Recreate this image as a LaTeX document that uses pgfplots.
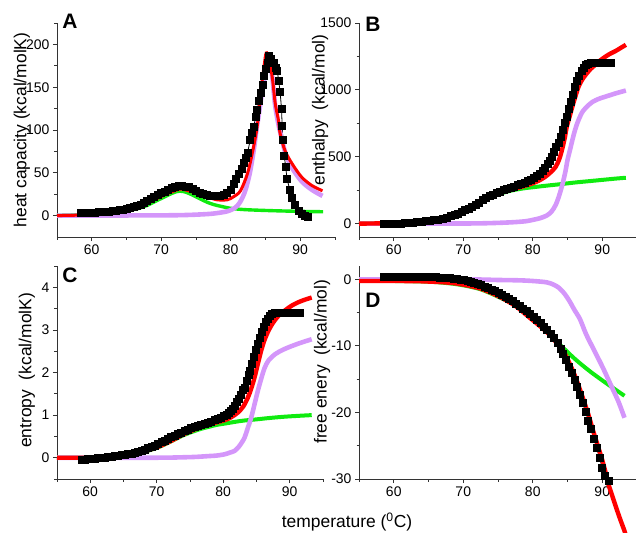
\documentclass[border=0pt]{standalone}
\usepackage{fontspec}
\setmainfont{Liberation Sans}
\usepackage{pgfplots}
\pgfplotsset{compat=1.18}

\definecolor{fitRed}{RGB}{255,0,0}
\definecolor{fitGreen}{RGB}{16,235,16}
\definecolor{fitLilac}{RGB}{212,150,250}

\pgfplotsset{
  panel/.style={
    scale only axis, anchor=south west, clip=false,
    xmin=55, xmax=95,
    axis x line*=bottom, axis y line*=left,
    axis line style={-, black!80, line width=0.8bp},
    tick style={black!80, line width=0.8bp},
    tick align=outside, major tick length=4bp, minor tick length=2.5bp,
    xtick={60,70,80,90}, minor xtick={55,65,75,85,95},
    ticklabel style={font=\fontsize{14}{14}\selectfont},
    label style={font=\fontsize{17.5}{17.5}\selectfont},
    /pgf/number format/assume math mode=true,
    /pgf/number format/1000 sep={},
    scaled ticks=false,
  },
  data/.style={black, line width=0.8bp, mark=square*, mark size=3.5bp},
  fitG/.style={fitGreen, line width=4bp, smooth},
  fitP/.style={fitLilac, line width=4.6bp, smooth},
  fitR/.style={fitRed, line width=4.4bp, smooth},
}

\begin{document}
\begin{tikzpicture}
\useasboundingbox (0,0) rectangle (636bp,-533bp);

% A: heat capacity
\begin{axis}[panel, at={(57bp,-237bp)}, width=278bp, height=214bp,
  ymin=-25, ymax=225, ytick={0,50,100,150,200}, minor ytick={25,75,125,175,225},
  ylabel={heat capacity (kcal/molK)},
  ylabel style={at={(axis description cs:-0.126,0.5)}, anchor=center}]
\addplot[data] coordinates {
 (58.5,3) (59,3) (59.5,3) (60,3.3) (60.5,3.5) (61,3.8) (61.5,4) (62,4.3)
 (62.5,4.7) (63,5.2) (63.5,5.8) (64,6.4) (64.5,7) (65,8) (65.5,9) (66,10)
 (66.5,11.5) (67,13) (67.5,15) (68,17.5) (68.5,20) (69,22) (69.5,24) (70,26)
 (70.5,28) (71,30) (71.5,32) (72,34) (72.5,35) (73,35) (73.5,34) (74,33)
 (74.5,31) (75,29) (75.5,27) (76,25.5) (76.5,24) (77,23) (77.5,22.5) (78,22.5)
 (78.5,23) (79,24) (79.5,26) (80,30) (80.4,37) (80.8,43) (81.2,49) (81.6,55)
 (81.9,61) (82.2,67) (82.4,73) (82.8,88) (83.1,97) (83.3,104) (83.6,115)
 (83.8,124) (84.1,134) (84.3,143) (84.6,153) (84.8,163) (85.1,171) (85.3,178)
 (85.5,186) (85.8,183) (86.2,178) (86.5,172) (86.7,169) (86.9,157) (87.1,145)
 (87.3,125) (87.4,105) (87.5,88) (87.7,70) (87.9,57) (88.1,43) (88.5,30)
 (88.8,21) (89.3,12) (89.8,5) (90.3,2) (90.7,0) (91.1,-1)
};
\addplot[fitG, line width=3.4bp] coordinates {
 (55,0.3) (58,1) (60,1.5) (62,2.5) (64,4) (66,7) (67,9) (68,12) (69,16) (70,20)
 (71,24) (72,27.5) (72.7,28.5) (73.5,27.5) (74.5,24) (75.5,20) (76.5,16)
 (77.5,13) (78.5,11) (80,8.5) (82,7) (85,6) (88,5.3) (91,4.8) (93.3,4.5)
};
\addplot[fitP] coordinates {
 (55,0) (70,0.3) (74,0.8) (77,2) (78.5,3.5) (79.5,5) (80.4,8) (81,12) (81.5,18)
 (82,27) (82.4,38) (82.8,52) (83.3,76) (83.7,100) (84,116) (84.4,138)
 (84.8,158) (85.1,172) (85.4,181) (85.7,177) (86,160) (86.4,128) (86.9,105)
 (87.4,88) (87.9,72) (88.8,56) (90.2,40) (91.7,30) (93.2,23)
};
\addplot[fitR, line width=3bp] coordinates {
 (55,0) (58,0.5) (60,1) (62.6,2) (65,5) (67,10) (68.4,16) (69.9,22) (71.3,27)
 (72.7,31) (73.7,29.5) (75.1,26) (76.6,22) (78,18.5) (79.5,18.5) (80.4,22)
 (81.4,29) (82.4,49) (83.1,73) (83.8,104) (84.3,143) (84.8,175) (85.1,190)
 (85.5,184) (86,160) (86.4,131) (86.85,112) (87.1,96) (87.8,76) (88.8,61)
 (90.2,45) (91.7,35) (93.2,29)
};
\end{axis}

% B: enthalpy
\begin{axis}[panel, at={(359bp,-237bp)}, width=278bp, height=214bp,
  ymin=-100, ymax=1500, ytick={0,500,1000,1500}, minor ytick={250,750,1250},
  ylabel={enthalpy\ \ (kcal/mol)},
  ylabel style={at={(axis description cs:-0.14,0.593)}, anchor=center}]
\addplot[data] coordinates {
 (58.6,-5) (59.2,-4) (59.8,-3) (60.4,-2) (61,0) (61.6,2) (62.2,4) (62.8,7)
 (63.4,10) (64,13) (64.6,17) (65.2,21) (65.8,26) (66.4,31) (67,38) (67.6,46)
 (68.2,55) (68.8,66) (69.3,76) (69.8,88) (70.3,100) (70.8,113) (71.3,127)
 (71.8,142) (72.3,158) (72.8,174) (73.3,190) (73.8,204) (74.3,217) (74.8,229)
 (75.3,240) (75.8,250) (76.3,259) (76.8,268) (77.3,277) (77.8,286) (78.3,295)
 (78.8,305) (79.3,316) (79.8,330) (80.2,343) (80.6,358) (81,375) (81.4,395)
 (81.8,418) (82.2,445) (82.5,470) (82.8,500) (83.1,535) (83.4,570) (83.7,605)
 (84,650) (84.3,700) (84.6,750) (84.9,800) (85.2,855) (85.5,910) (85.8,965)
 (86.1,1020) (86.4,1065) (86.7,1105) (87,1140) (87.3,1165) (87.6,1185)
 (87.9,1197) (88.3,1203) (88.8,1205) (89.3,1205) (89.8,1204) (90.3,1203)
 (90.8,1201) (91.2,1200)
};
\addplot[fitG] coordinates {
 (55,0) (59,3) (63,11) (66,28) (68,52) (70,90) (71,115) (72,148) (73,175)
 (74,198) (75,218) (76,235) (77,248) (78,258) (79,266) (80,272) (82,284)
 (84,295) (86,307) (88,317) (90,327) (92,337) (93.4,343)
};
\addplot[fitP] coordinates {
 (55,0) (70,1) (74,4) (77,10) (79,18) (80,28) (81,40) (82,60) (82.7,90)
 (83.3,140) (83.8,210) (84.3,300) (84.7,390) (85,475) (85.4,560) (85.7,625)
 (86,685) (86.4,750) (86.8,800) (87.2,840) (87.9,880) (88.6,910) (89.5,933)
 (90.5,950) (92,975) (93.4,995)
};
\addplot[fitR] coordinates {
 (55,0) (59,3) (63,12) (66,30) (67.9,50) (69,72) (70.2,100) (71.4,138)
 (72.6,175) (73.8,203) (75,225) (76.2,245) (77.5,262) (78.7,280) (79.9,300)
 (80.9,322) (81.8,350) (82.6,385) (83.3,425) (83.8,480) (84.2,550) (84.6,640)
 (84.9,725) (85.3,800) (85.7,875) (86.1,945) (86.6,1025) (87.1,1075)
 (87.6,1112) (88.3,1155) (89,1187) (89.7,1220) (90.5,1250) (91.2,1272)
 (91.9,1290) (92.7,1315) (93.4,1337)
};
\end{axis}

% C: entropy
\begin{axis}[panel, at={(57bp,-479bp)}, width=266bp, height=213bp,
  ymin=-0.5, ymax=4.5, ytick={0,1,2,3,4}, minor ytick={-0.5,0.5,1.5,2.5,3.5,4.5},
  ylabel={entropy\ \ (kcal/molK)},
  ylabel style={at={(axis description cs:-0.113,0.51)}, anchor=center}]
\addplot[data] coordinates {
 (58.7,-0.04) (59.2,-0.04) (59.7,-0.035) (60.2,-0.03) (60.7,-0.02) (61.2,-0.01)
 (61.7,0) (62.2,0.005) (62.7,0.015) (63.2,0.025) (63.7,0.035) (64.2,0.045)
 (64.7,0.055) (65.2,0.065) (65.7,0.08) (66.2,0.095) (66.7,0.11) (67.2,0.135)
 (67.7,0.16) (68.2,0.19) (68.7,0.22) (69.2,0.25) (69.7,0.285) (70.2,0.32)
 (70.7,0.36) (71.2,0.4) (71.7,0.44) (72.2,0.48) (72.7,0.51) (73.2,0.55)
 (73.7,0.59) (74.2,0.63) (74.7,0.66) (75.2,0.7) (75.7,0.73) (76.2,0.75)
 (76.7,0.78) (77.2,0.8) (77.7,0.82) (78.2,0.85) (78.7,0.88) (79.2,0.91)
 (79.7,0.94) (80.1,0.97) (80.5,1.01) (80.9,1.06) (81.2,1.1) (81.5,1.15)
 (81.8,1.22) (82.1,1.3) (82.4,1.39) (82.7,1.48) (83,1.58) (83.2,1.65)
 (83.5,1.8) (83.8,1.95) (84,2.04) (84.3,2.2) (84.6,2.37) (84.9,2.53)
 (85.2,2.68) (85.5,2.82) (85.8,2.96) (86.1,3.08) (86.4,3.18) (86.7,3.26)
 (87,3.32) (87.3,3.37) (87.7,3.39) (88.1,3.4) (88.6,3.41) (89.1,3.41)
 (89.6,3.4) (90.1,3.4) (90.6,3.39) (91.1,3.39) (91.6,3.39)
};
\addplot[fitG] coordinates {
 (55,0) (60,0) (62,0.01) (64,0.02) (66,0.06) (67.6,0.11) (69,0.18) (70,0.23)
 (71.3,0.32) (72.6,0.42) (73.9,0.52) (75.2,0.6) (76.5,0.67) (77.7,0.72)
 (79,0.77) (80.2,0.8) (81.7,0.84) (83,0.87) (85,0.9) (86.8,0.93) (89,0.96)
 (91,0.98) (93.3,1.0)
};
\addplot[fitP] coordinates {
 (55,0) (70,0) (74,0.01) (76,0.02) (78,0.04) (79,0.05) (80.2,0.08) (81,0.12)
 (81.7,0.16) (82.3,0.25) (82.8,0.36) (83.2,0.47) (83.7,0.7) (84.2,0.94)
 (84.7,1.25) (85.2,1.57) (85.7,1.85) (86.2,2.1) (86.8,2.28) (87.8,2.43)
 (88.8,2.52) (89.8,2.59) (91.5,2.69) (93.3,2.78)
};
\addplot[fitR] coordinates {
 (55,0) (60,0) (62,0.01) (64,0.02) (66,0.06) (67.6,0.12) (69,0.19) (70,0.24)
 (71.3,0.33) (72.6,0.43) (73.9,0.54) (75.2,0.63) (76.5,0.71) (77.7,0.77)
 (79,0.83) (80.2,0.88) (81.2,0.95) (82.2,1.06) (83,1.2) (83.7,1.41)
 (84.2,1.62) (84.7,1.88) (85.2,2.2) (85.7,2.51) (86.2,2.76) (86.8,2.98)
 (87.5,3.17) (88.3,3.33) (89.3,3.46) (90.3,3.57) (91.3,3.65) (92.3,3.71)
 (93.3,3.76)
};
\end{axis}

% D: free energy
\begin{axis}[panel, at={(359bp,-479bp)}, width=278bp, height=213bp,
  ymin=-30, ymax=2, ytick={-30,-20,-10,0}, minor ytick={-25,-15,-5},
  ylabel={free enery\ \ (kcal/mol)},
  ylabel style={at={(axis description cs:-0.133,0.55)}, anchor=center}]
\addplot[data] coordinates {
 (58.6,0.4) (59.1,0.4) (59.6,0.4) (60.1,0.4) (60.6,0.4) (61.1,0.4) (61.6,0.4)
 (62.1,0.4) (62.6,0.4) (63.1,0.4) (63.6,0.4) (64.1,0.38) (64.6,0.36)
 (65.1,0.34) (65.6,0.32) (66.1,0.3) (66.6,0.27) (67.1,0.24) (67.6,0.2)
 (68.1,0.15) (68.6,0.1) (69.1,0.03) (69.6,-0.05) (70.1,-0.15) (70.6,-0.27)
 (71.1,-0.4) (71.6,-0.55) (72.1,-0.72) (72.6,-0.9) (73.1,-1.1) (73.6,-1.32)
 (74.1,-1.55) (74.6,-1.8) (75.1,-2.07) (75.6,-2.35) (76.1,-2.65) (76.6,-2.97)
 (77.1,-3.3) (77.6,-3.65) (78.1,-4.02) (78.6,-4.4) (79.1,-4.8) (79.6,-5.2)
 (80.1,-5.65) (80.6,-6.1) (81.1,-6.6) (81.6,-7.1) (82.1,-7.6) (82.6,-8.2)
 (83.1,-8.8) (83.6,-9.6) (84,-10.4) (84.4,-11.2) (84.8,-12.1) (85.2,-13.1)
 (85.6,-14.1) (86,-15.1) (86.4,-16.2) (86.8,-17.4) (87.2,-18.6) (87.6,-19.9)
 (88,-21.2) (88.4,-22.5) (88.8,-23.9) (89.2,-25.3) (89.6,-26.8) (90,-28.3)
 (90.4,-29.6) (90.9,-30.3)
};
\addplot[fitG] coordinates {
 (55,-0.25) (60,-0.25) (65,-0.35) (68,-0.6) (70,-0.9) (72.5,-1.5) (75,-2.6)
 (77.5,-3.9) (79.6,-5.3) (81.8,-7.6) (83.9,-9.8) (86,-11.9) (88.2,-13.8)
 (90.7,-15.7) (93.2,-17.5)
};
\addplot[fitP] coordinates {
 (55,0) (70,0) (75,-0.1) (78,-0.15) (80,-0.25) (82,-0.45) (83,-0.8)
 (83.8,-1.3) (84.6,-2.2) (85.3,-3.3) (86,-4.6) (86.8,-6.0) (87.7,-8.3)
 (88.9,-10.8) (90.1,-13.3) (91.2,-15.8) (92.3,-18.3) (93.2,-20.8)
};
\addplot[fitR] coordinates {
 (55,-0.25) (60,-0.25) (64,-0.3) (67.9,-0.5) (70,-0.8) (72.5,-1.4) (75,-2.5)
 (77.5,-4) (79.6,-5.8) (81,-7) (82.4,-8.3) (83.4,-9.5) (84.4,-10.8)
 (85.1,-12.2) (85.8,-13.8) (86.5,-15.7) (87.2,-17.8) (88,-20.3) (88.7,-22.8)
 (89.3,-24.8) (89.9,-26.8) (90.4,-28.7) (90.8,-30.5) (91.4,-32.4) (92,-34.3)
 (92.6,-36.1) (93.2,-37.8) (93.5,-38.8)
};
\end{axis}

\node[font=\bfseries\fontsize{21}{21}\selectfont] at (70bp,-21bp) {A};
\node[font=\bfseries\fontsize{21}{21}\selectfont] at (373bp,-24bp) {B};
\node[font=\bfseries\fontsize{21}{21}\selectfont] at (70bp,-275bp) {C};
\node[font=\bfseries\fontsize{21}{21}\selectfont] at (373bp,-300bp) {D};
\node[font=\fontsize{17.5}{17.5}\selectfont] at (347bp,-522bp) {temperature (\textsuperscript{0}C)};
\end{tikzpicture}
\end{document}
